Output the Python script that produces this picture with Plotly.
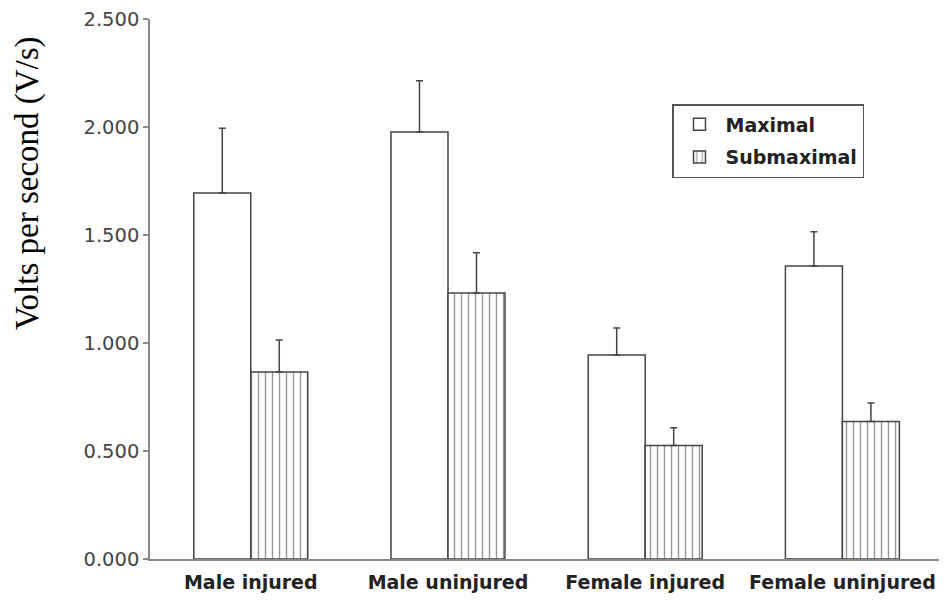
import plotly.graph_objects as go

categories = ["Male injured", "Male uninjured", "Female injured", "Female uninjured"]
maximal = [1.694, 1.977, 0.944, 1.356]
maximal_err = [0.300, 0.237, 0.125, 0.159]
submaximal = [0.866, 1.231, 0.525, 0.636]
submaximal_err = [0.148, 0.187, 0.083, 0.086]
y_ticks = [0, 0.5, 1.0, 1.5, 2.0, 2.5]
y_ticktext = ["0.000", "0.500", "1.000", "1.500", "2.000", "2.500"]

edge = "#444444"
axis_col = "#888888"

# page has an 8px body margin: figure spans page x 8..947, y 8..601
OFF = 8
W, H = 947 - OFF, 601 - OFF
PL, PR, PT, PB = 150, 942, 19, 559  # plot area in page pixels
pw, ph = PR - PL, PB - PT

fig = go.Figure()
fig.add_trace(go.Bar(
    name="Maximal", x=categories, y=maximal, legendgroup="a",
    marker=dict(color="white", line=dict(color=edge, width=1.5)),
    error_y=dict(type="data", array=maximal_err, arrayminus=[0]*4, symmetric=False,
                 color=edge, thickness=1.5, width=3.5),
))
fig.add_trace(go.Bar(
    name="Submaximal", x=categories, y=submaximal, legendgroup="b",
    marker=dict(color="white", line=dict(color=edge, width=1.5),
                pattern=dict(shape="|", fgcolor="#333333", bgcolor="white", size=7, solidity=0.2)),
    error_y=dict(type="data", array=submaximal_err, arrayminus=[0]*4, symmetric=False,
                 color=edge, thickness=1.5, width=3.5),
))

fig.update_layout(
    width=W, height=H,
    margin=dict(l=PL - OFF, r=947 - PR, t=PT - OFF, b=601 - PB, autoexpand=False),
    paper_bgcolor="white", plot_bgcolor="white",
    barmode="group", bargap=0.422, bargroupgap=0,
    showlegend=True,
    legend=dict(x=(672 - PL) / pw, y=(PB - 104) / ph, xanchor="left", yanchor="top",
                bordercolor="#555555", borderwidth=1.5, bgcolor="white",
                font=dict(family="DejaVu Sans", size=19, color="#222222", weight="bold"),
                tracegroupgap=5, itemwidth=42),
    xaxis=dict(range=[-0.511, 3.505], showline=True, linecolor=axis_col, linewidth=1.5,
               ticks="", showgrid=False, zeroline=False, ticklabelstandoff=5, automargin=False,
               tickfont=dict(family="DejaVu Sans", size=19, color="#222222", weight="bold")),
    yaxis=dict(range=[0, 2.5], tickvals=y_ticks, ticktext=y_ticktext,
               showline=True, linecolor=axis_col, linewidth=1.5,
               ticks="outside", ticklen=5, tickcolor=axis_col, tickwidth=1.5,
               showgrid=False, zeroline=False, ticklabeloverflow="allow", automargin=False,
               tickfont=dict(family="DejaVu Sans", size=19.5, color="#444444")),
    annotations=[dict(text="Volts per second (V/s)", textangle=-90,
                      xref="paper", yref="paper", x=-(PL - 27) / pw, y=(PB - 183) / ph,
                      xanchor="center", yanchor="middle", showarrow=False,
                      font=dict(family="Liberation Serif", size=33, color="black"))],
)

fig.write_html("out.html")
